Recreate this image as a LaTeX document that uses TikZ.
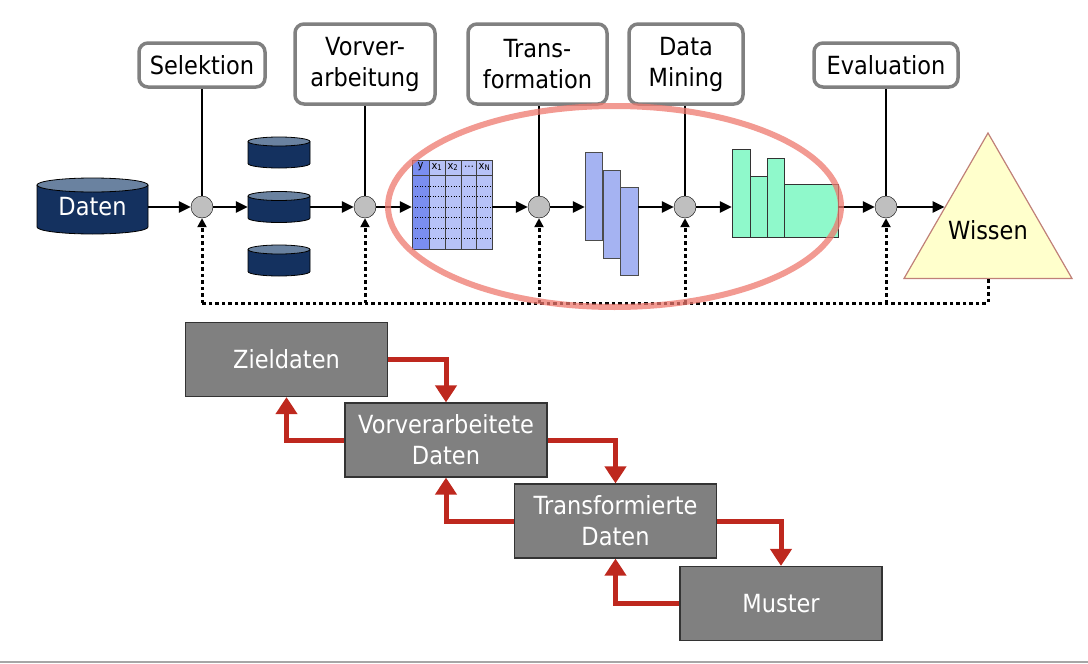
\documentclass[tikz,border=0pt]{standalone}
\usepackage{fontspec}
\setmainfont[FakeStretch=0.9]{DejaVu Sans}
\usetikzlibrary{arrows.meta,shapes.geometric}
\definecolor{navy}{RGB}{20,49,95}
\definecolor{navytop}{RGB}{106,130,160}
\definecolor{colA}{RGB}{122,142,240}
\definecolor{colB}{RGB}{183,194,247}
\definecolor{barblue}{RGB}{165,179,242}
\definecolor{histgreen}{RGB}{143,249,203}
\definecolor{loopred}{RGB}{190,40,30}
\definecolor{ringred}{RGB}{238,120,110}
\definecolor{wissfill}{RGB}{255,255,204}
\definecolor{wissline}{RGB}{192,128,120}
\begin{document}
\begin{tikzpicture}[x=1pt,y=-1pt,
	lbl/.style={draw=gray,line width=3.5pt,rounded corners=9pt,fill=white,align=center,inner sep=0pt,font=\fontsize{25}{31}\selectfont},
	knot/.style={circle,draw,fill=gray!50,minimum size=22pt,inner sep=0pt},
	cyl/.style={draw,line width=.8pt},
	box/.style={draw=black!80,line width=1.2pt,fill=gray,text=white,align=center,minimum width=202pt,minimum height=74pt,font=\fontsize{25}{31}\selectfont},
	arr/.style={line width=2.7pt,-{Triangle[length=12pt,width=11pt]}},
	dotline/.style={line width=3pt,dash pattern=on 3.5pt off 3pt},
	redarr/.style={loopred,line width=5pt,-{Triangle[length=17pt,width=21pt]}}]
	\useasboundingbox (0,0) rectangle (1088,664);
	% Datenbanken
	\draw[cyl,fill=navy] (37,185) -- (37,227) arc[start angle=180,end angle=0,x radius=55.5,y radius=7] -- (148,185);
	\draw[cyl,fill=navytop] (92.5,185) ellipse [x radius=55.5,y radius=7];
	\node[minimum width=111pt,minimum height=56pt,inner sep=0pt,text=white,font=\fontsize{25}{30}\selectfont] (daten) at (92.5,207) {\raisebox{-4pt}{Daten}};
	\foreach \ya [count=\k] in {137,191.5,245} {
		\draw[cyl,fill=navy] (248,\ya+4.5) -- (248,\ya+26.5) arc[start angle=180,end angle=0,x radius=31,y radius=4.5] -- (310,\ya+4.5);
		\draw[cyl,fill=navytop] (279,\ya+4.5) ellipse [x radius=31,y radius=4.5];
		\node[minimum width=62pt,minimum height=31pt,inner sep=0pt] (db\k) at (279,\ya+15.5) {};
	}
	% Tabelle
	\fill[colA] (412,160) rectangle (429,249);
	\fill[colB] (429,160) rectangle (492,249);
	\foreach \ya in {186,196,207,217,228,238}
		\draw[line width=.6pt,dotted] (412,\ya) -- (492,\ya);
	\foreach \xa in {429,445,461,476.5}
		\draw[line width=.8pt,black!75] (\xa,160) -- (\xa,249);
	\draw[line width=.8pt,black!75] (412,175) -- (492,175);
	\draw[line width=.8pt,black!75] (412,160) rectangle (492,249);
	\foreach \xa/\t in {420.5/y,437/x\textsubscript{1},453/x\textsubscript{2},469/\dots,484.5/x\textsubscript{N}}
		\node[font=\fontsize{11}{12}\selectfont,inner sep=0pt] at (\xa,167) {\t};
	\node[minimum width=80pt,minimum height=89pt,inner sep=0pt] (tab) at (452,204.5) {};
	% Modelle
	\foreach \xa/\ya in {585/152,603/170,620.5/187}
		\draw[fill=barblue,draw=black!70,line width=.8pt] (\xa,\ya) rectangle ++(17.5,88);
	\node[minimum width=53pt,minimum height=122pt,inner sep=0pt] (bars) at (611.5,213) {};
	% Muster
	\draw[fill=histgreen,draw=black!80,line width=.8pt] (732,149) rectangle (750,237);
	\draw[fill=histgreen,draw=black!80,line width=.8pt] (750,176) rectangle (767,237);
	\draw[fill=histgreen,draw=black!80,line width=.8pt] (767,158) rectangle (784,237);
	\draw[fill=histgreen,draw=black!80,line width=.8pt] (784,184) rectangle (838,237);
	\node[minimum width=106pt,minimum height=88pt,inner sep=0pt] (hist) at (785,193) {};
	\node[regular polygon,regular polygon sides=3,minimum size=194pt,inner sep=0pt,draw=wissline,fill=wissfill,line width=1.2pt,
		label={[font=\fontsize{25}{30}\selectfont]center:Wissen}] (wissen) at (988,230) {};
	% Schritte
	\node[lbl,minimum width=126pt,minimum height=44pt] (l1) at (202,65) {Selektion};
	\node[lbl,minimum width=140pt,minimum height=80pt] (l2) at (365,64) {Vorver-\\arbeitung};
	\node[lbl,minimum width=139pt,minimum height=80pt] (l3) at (537.5,64) {Trans-\\formation};
	\node[lbl,minimum width=114pt,minimum height=80pt] (l4) at (686,64) {Data\\Mining};
	\node[lbl,minimum width=144pt,minimum height=44pt] (l5) at (886,65) {Evaluation};
	\node[knot] (c1) at (202,207) {};
	\node[knot] (c2) at (365,207) {};
	\node[knot] (c3) at (539,207) {};
	\node[knot] (c4) at (685,207) {};
	\node[knot] (c5) at (886,207) {};
	\foreach \i in {1,...,5}
		\draw[line width=1.2pt] (l\i.south -| c\i) -- (c\i);
	\draw[arr] (daten) -- (c1);
	\draw[arr] (c1) -- (db2);
	\draw[arr] (db2) -- (c2);
	\draw[arr] (c2) -- (c2 -| tab.west);
	\draw[arr] (tab.east |- c3) -- (c3);
	\draw[arr] (c3) -- (c3 -| bars.west);
	\draw[arr] (bars.east |- c4) -- (c4);
	\draw[arr] (c4) -- (c4 -| hist.west);
	\draw[arr] (hist.east |- c5) -- (c5);
	\draw[arr] (c5) -- (c5 -| wissen.152);
	% Rueckkopplung
	\coordinate (fb) at (988,303);
	\draw[dotline] (wissen.south) -- (fb) -- (fb -| c1);
	\foreach \i in {1,...,5}
		\draw[dotline,-{Triangle[length=9pt,width=9pt]}] (fb -| c\i) -- (c\i);
	\draw[ringred,opacity=.75,line width=6pt] (614.5,206.5) ellipse [x radius=226.5,y radius=100.5];
	% Datenstufen unten
	\node[box] (ziel) at (286.5,359.5) {Zieldaten};
	\node[box] (vor) at (446,440) {Vorverarbeitete\\Daten};
	\node[box] (trf) at (615.5,521) {Transformierte\\Daten};
	\node[box] (mus) at (781,603.5) {Muster};
	\draw[redarr] (ziel.east) -| (vor.north);
	\draw[redarr] (vor.west) -| (ziel.south);
	\draw[redarr] (vor.east) -| (trf.north);
	\draw[redarr] (trf.west) -| (vor.south);
	\draw[redarr] (trf.east) -| (mus.north);
	\draw[redarr] (mus.west) -| (trf.south);
	\draw[gray!70,line width=2pt] (0,662) -- (1088,662);
\end{tikzpicture}
\end{document}
